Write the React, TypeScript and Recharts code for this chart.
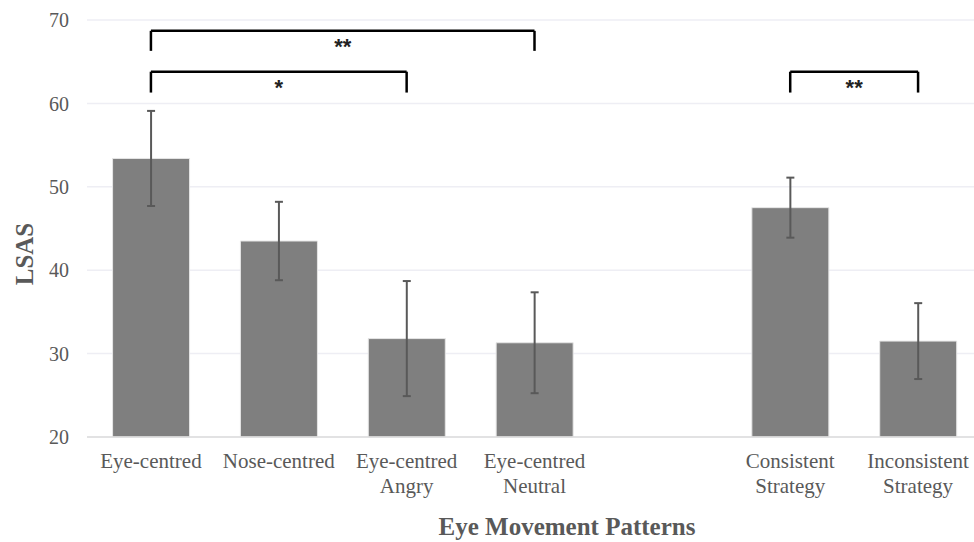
import { BarChart, Bar, XAxis, YAxis, CartesianGrid, ErrorBar, ReferenceLine } from 'recharts';

const categories = ['Eye-centred', 'Nose-centred', 'Eye-centred Angry', 'Eye-centred Neutral', 'gap', 'Consistent Strategy', 'Inconsistent Strategy'];
const tickLines = [['Eye-centred'], ['Nose-centred'], ['Eye-centred', 'Angry'], ['Eye-centred', 'Neutral'], [], ['Consistent', 'Strategy'], ['Inconsistent', 'Strategy']];
const means = [53.4, 43.5, 31.8, 31.3, null, 47.5, 31.5];
const errors = [5.7, 4.7, 6.9, 6.05, null, 3.6, 4.55];
const yTicks = [20, 30, 40, 50, 60, 70];

// significance brackets: from category, to category, bar level, leg end, stars
const brackets = [
  { from: 'Eye-centred', to: 'Eye-centred Neutral', top: 68.7, leg: 66.3, stars: '**' },
  { from: 'Eye-centred', to: 'Eye-centred Angry', top: 63.8, leg: 61.3, stars: '*' },
  { from: 'Consistent Strategy', to: 'Inconsistent Strategy', top: 63.8, leg: 61.3, stars: '**' },
];

const data = categories.map((c, i) => ({ name: c, lsas: means[i], err: errors[i] }));

const SERIF = '"Liberation Serif", "Times New Roman", serif';
const GREY = '#595959';

const XTick = (props: any) => {
  const { x, y, index } = props;
  const lines = tickLines[index] || [];
  return (
    <g>
      {lines.map((l, k) => (
        <text key={k} x={x} y={y + 24 + k * 25} textAnchor="middle" dominantBaseline="central"
          fill={GREY} fontSize={21} fontFamily={SERIF}>{l}</text>
      ))}
    </g>
  );
};

export default function App() {
  return (
    <div style={{ position: 'absolute', left: 0, top: 0, width: 974, height: 542, overflow: 'hidden', background: '#fff' }}>
      <BarChart width={982} height={542} data={data} margin={{ top: 20, right: 0, left: 0, bottom: 0 }} barCategoryGap="20%">
        <CartesianGrid vertical={false} stroke="#eeeef4" strokeWidth={1.5} />
        <XAxis dataKey="name" height={105} tickLine={false} tickSize={0} tickMargin={0}
          axisLine={{ stroke: '#dcdcdc', strokeWidth: 1.5 }} tick={<XTick />} interval={0}
          label={{ content: () => (
            <text x={567} y={526} textAnchor="middle" dominantBaseline="central" fill={GREY}
              fontSize={25} fontWeight="bold" fontFamily={SERIF}>Eye Movement Patterns</text>
          ) }} />
        <YAxis width={87} domain={[20, 70]} ticks={yTicks} axisLine={false} tickLine={false}
          tickSize={0} tickMargin={18} interval={0}
          tick={{ fill: GREY, fontSize: 20, fontFamily: SERIF }}
          label={{ content: () => (
            <text x={24} y={254} transform="rotate(-90 24 254)" textAnchor="middle" dominantBaseline="central"
              fill={GREY} fontSize={25} fontWeight="bold" fontFamily={SERIF}>LSAS</text>
          ) }} />
        <Bar dataKey="lsas" fill="#7f7f7f" stroke="#e6e6e6" strokeWidth={1} isAnimationActive={false}>
          <ErrorBar dataKey="err" width={4} strokeWidth={2} stroke={GREY} />
        </Bar>
        {brackets.map((b, i) => (
          <ReferenceLine key={'h' + i} segment={[{ x: b.from, y: b.top }, { x: b.to, y: b.top }]}
            stroke="#000" strokeWidth={2.5} ifOverflow="visible"
            label={{ value: b.stars, position: 'bottom', offset: 8, fill: '#222', fontSize: 22, fontWeight: 'bold', fontFamily: '"Liberation Sans", Arial, sans-serif' }} />
        ))}
        {brackets.map((b, i) => (
          <ReferenceLine key={'l' + i} segment={[{ x: b.from, y: b.top }, { x: b.from, y: b.leg }]}
            stroke="#000" strokeWidth={2.5} ifOverflow="visible" />
        ))}
        {brackets.map((b, i) => (
          <ReferenceLine key={'r' + i} segment={[{ x: b.to, y: b.top }, { x: b.to, y: b.leg }]}
            stroke="#000" strokeWidth={2.5} ifOverflow="visible" />
        ))}
      </BarChart>
    </div>
  );
}
